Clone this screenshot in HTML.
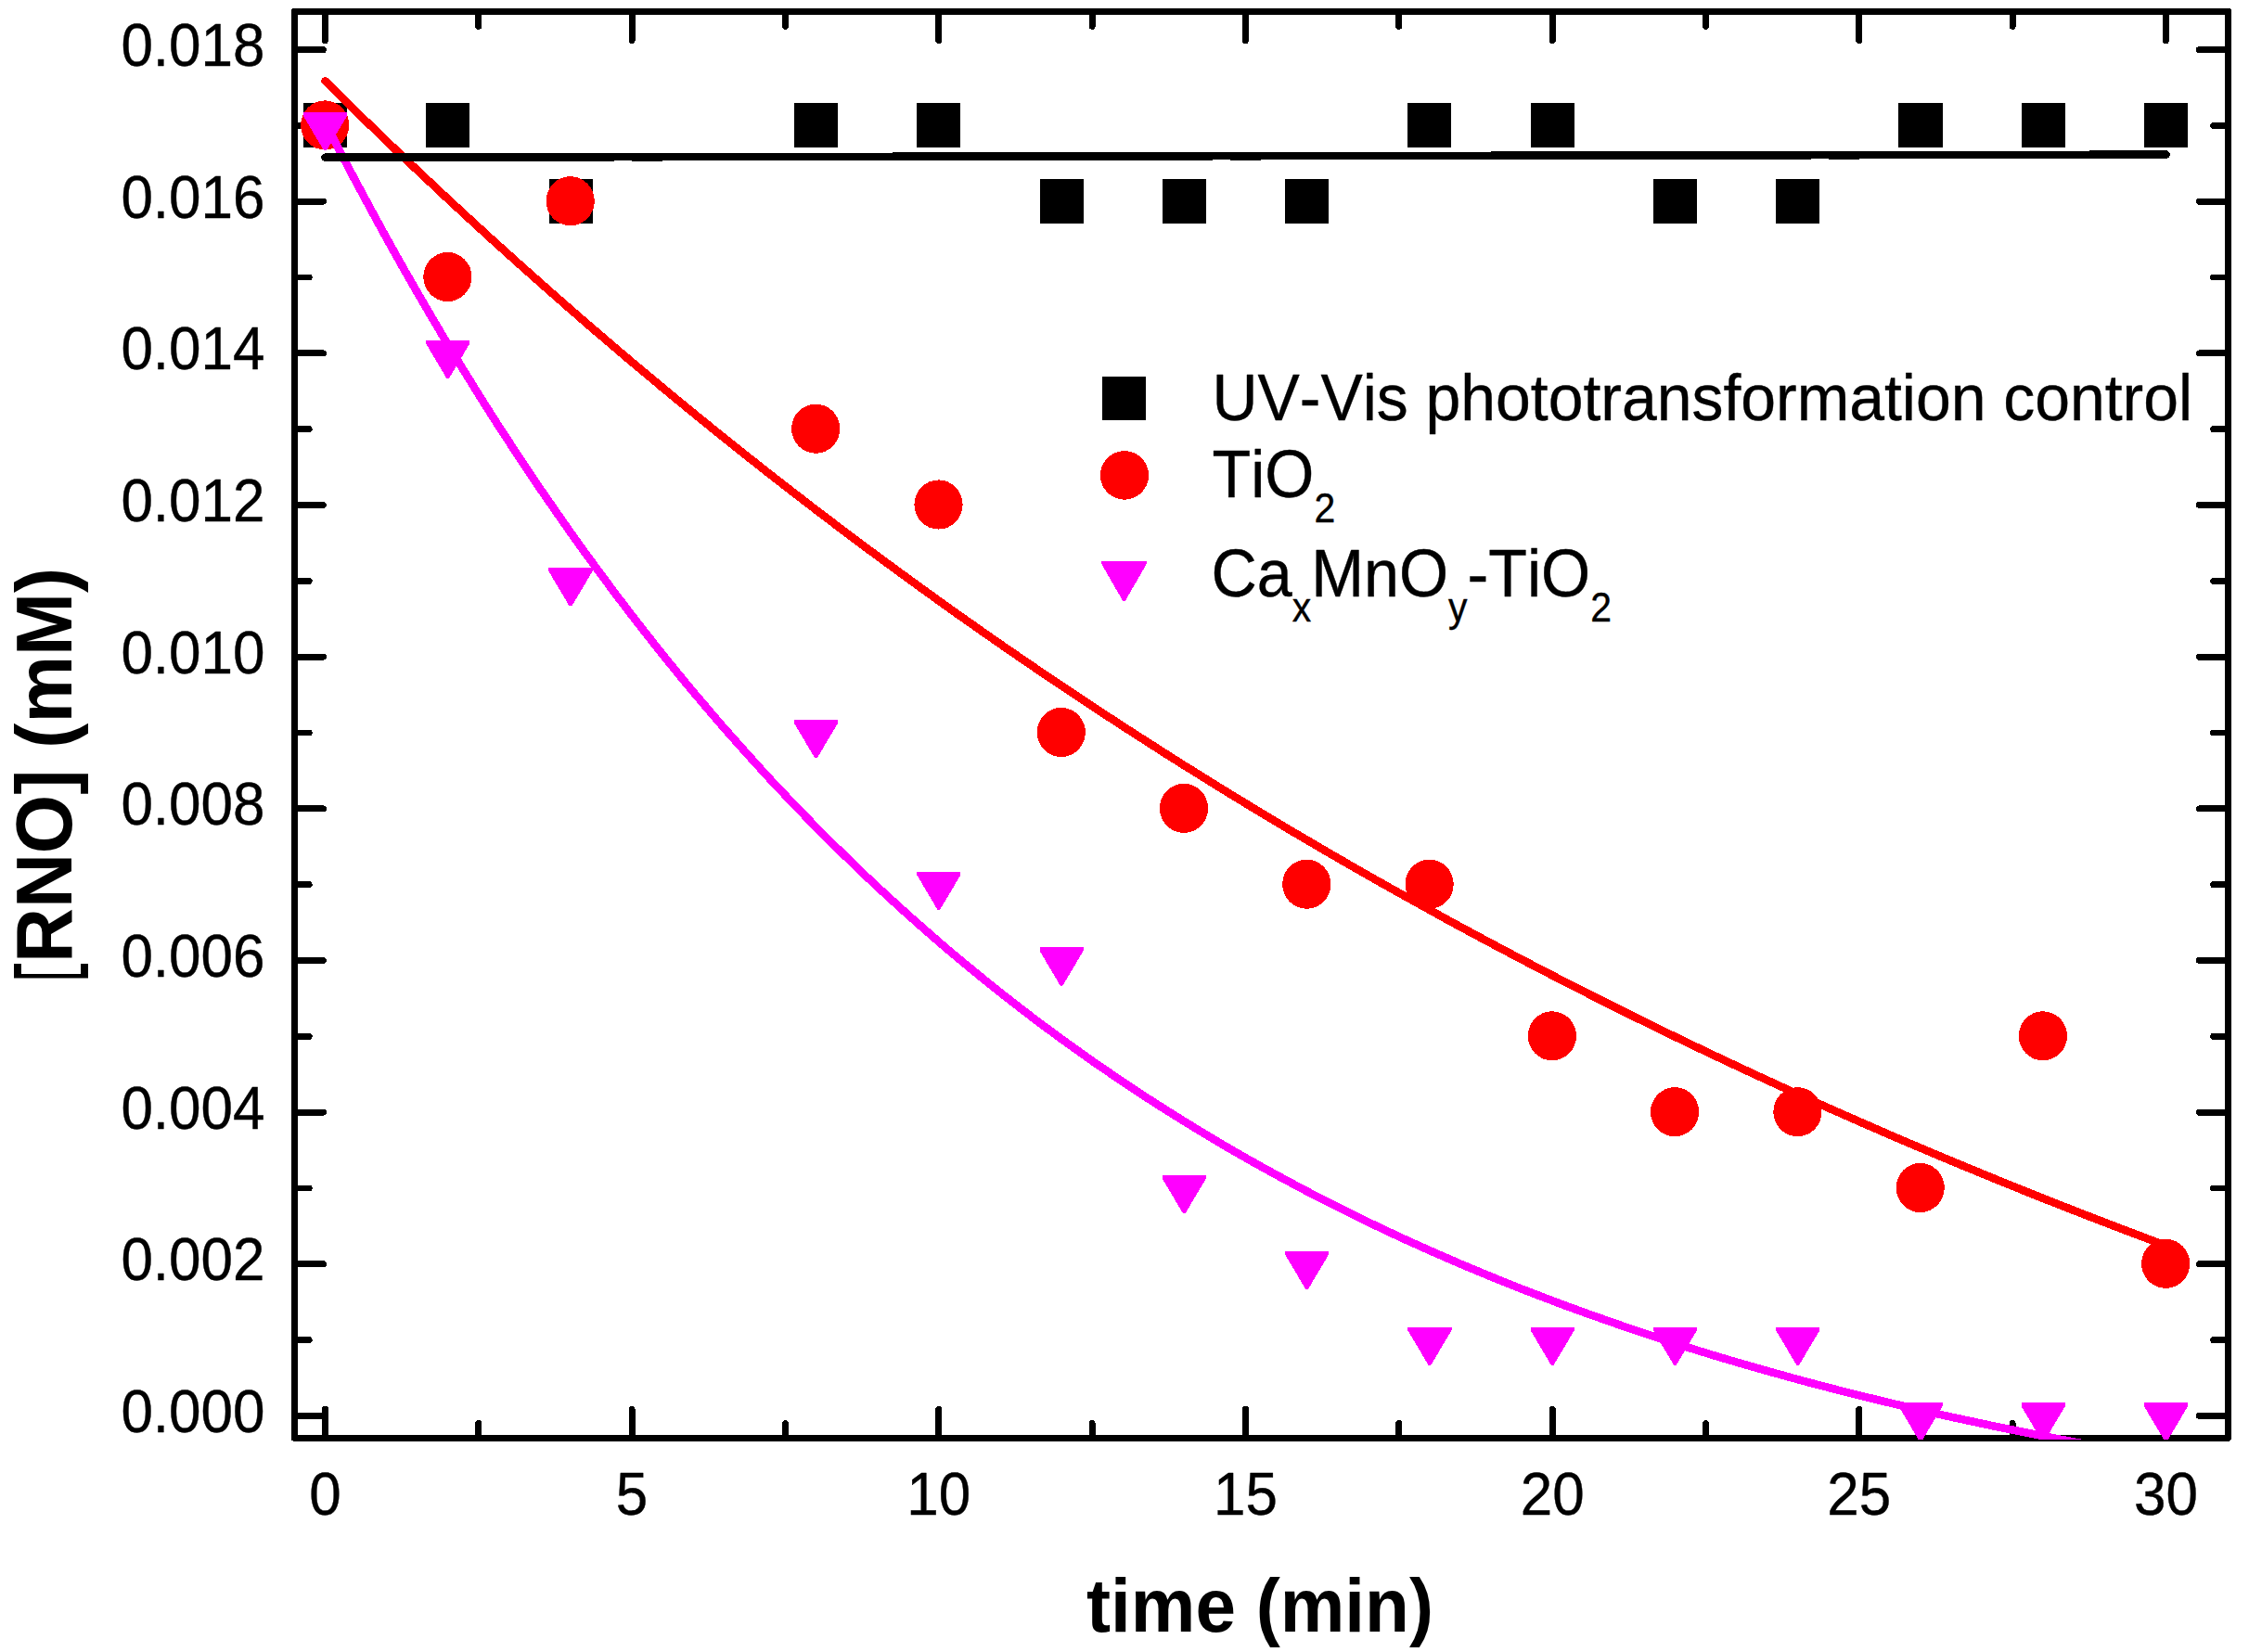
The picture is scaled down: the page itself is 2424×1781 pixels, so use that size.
<!DOCTYPE html>
<html><head><meta charset="utf-8"><title>RNO plot</title>
<style>html,body{margin:0;padding:0;background:#fff}svg{display:block}text{font-kerning:none}</style></head>
<body>
<svg width="2424" height="1781" viewBox="0 0 2424 1781" shape-rendering="crispEdges">
<rect width="2424" height="1781" fill="#fff"/>
<defs><clipPath id="c"><rect x="315.90" y="10.94" width="2087.16" height="1541.03"/></clipPath></defs>
<g stroke="#000" stroke-width="6.9" stroke-linecap="round" fill="none">
<rect x="317.4" y="12.44" width="2084.16" height="1538.03" stroke-linejoin="round"/>
<path d="M350.5 1550.47V1519.3M350.5 12.44V43.6M515.8 1550.47V1534.6M515.8 12.44V28.3M681.1 1550.47V1519.3M681.1 12.44V43.6M846.5 1550.47V1534.6M846.5 12.44V28.3M1011.8 1550.47V1519.3M1011.8 12.44V43.6M1177.1 1550.47V1534.6M1177.1 12.44V28.3M1342.5 1550.47V1519.3M1342.5 12.44V43.6M1507.8 1550.47V1534.6M1507.8 12.44V28.3M1673.2 1550.47V1519.3M1673.2 12.44V43.6M1838.5 1550.47V1534.6M1838.5 12.44V28.3M2003.8 1550.47V1519.3M2003.8 12.44V43.6M2169.2 1550.47V1534.6M2169.2 12.44V28.3M2334.5 1550.47V1519.3M2334.5 12.44V43.6M317.4 1526.5H348.5M2401.56 1526.5H2370.4M317.4 1444.7H333.2M2401.56 1444.7H2385.7M317.4 1362.8H348.5M2401.56 1362.8H2370.4M317.4 1281.0H333.2M2401.56 1281.0H2385.7M317.4 1199.2H348.5M2401.56 1199.2H2370.4M317.4 1117.3H333.2M2401.56 1117.3H2385.7M317.4 1035.5H348.5M2401.56 1035.5H2370.4M317.4 953.7H333.2M2401.56 953.7H2385.7M317.4 871.9H348.5M2401.56 871.9H2370.4M317.4 790.0H333.2M2401.56 790.0H2385.7M317.4 708.2H348.5M2401.56 708.2H2370.4M317.4 626.4H333.2M2401.56 626.4H2385.7M317.4 544.5H348.5M2401.56 544.5H2370.4M317.4 462.7H333.2M2401.56 462.7H2385.7M317.4 380.9H348.5M2401.56 380.9H2370.4M317.4 299.0H333.2M2401.56 299.0H2385.7M317.4 217.2H348.5M2401.56 217.2H2370.4M317.4 135.4H333.2M2401.56 135.4H2385.7M317.4 53.6H348.5M2401.56 53.6H2370.4"/>
</g>
<g font-family="'Liberation Sans', sans-serif" font-size="63" fill="#000" stroke="#000" stroke-width="0.4" stroke-linejoin="round">
<text transform="translate(285.5 1543.8) scale(0.984 1.0405)" text-anchor="end">0.000</text>
<text transform="translate(285.5 1380.1) scale(0.984 1.0405)" text-anchor="end">0.002</text>
<text transform="translate(285.5 1216.5) scale(0.984 1.0405)" text-anchor="end">0.004</text>
<text transform="translate(285.5 1052.8) scale(0.984 1.0405)" text-anchor="end">0.006</text>
<text transform="translate(285.5 889.2) scale(0.984 1.0405)" text-anchor="end">0.008</text>
<text transform="translate(285.5 725.5) scale(0.984 1.0405)" text-anchor="end">0.010</text>
<text transform="translate(285.5 561.8) scale(0.984 1.0405)" text-anchor="end">0.012</text>
<text transform="translate(285.5 398.2) scale(0.984 1.0405)" text-anchor="end">0.014</text>
<text transform="translate(285.5 234.5) scale(0.984 1.0405)" text-anchor="end">0.016</text>
<text transform="translate(285.5 70.9) scale(0.984 1.0405)" text-anchor="end">0.018</text>
<text transform="translate(350.5 1632.6) scale(0.984 1.0405)" text-anchor="middle">0</text>
<text transform="translate(681.1 1632.6) scale(0.984 1.0405)" text-anchor="middle">5</text>
<text transform="translate(1011.8 1632.6) scale(0.984 1.0405)" text-anchor="middle">10</text>
<text transform="translate(1342.5 1632.6) scale(0.984 1.0405)" text-anchor="middle">15</text>
<text transform="translate(1673.2 1632.6) scale(0.984 1.0405)" text-anchor="middle">20</text>
<text transform="translate(2003.8 1632.6) scale(0.984 1.0405)" text-anchor="middle">25</text>
<text transform="translate(2334.5 1632.6) scale(0.984 1.0405)" text-anchor="middle">30</text>
</g>
<g font-family="'Liberation Sans', sans-serif" font-size="81.5" font-weight="bold" fill="#000">
<text transform="translate(1358 1758.8) scale(0.9605 1)" text-anchor="middle">time (min)</text>
<clipPath id="yc"><rect x="0" y="600" width="110" height="454.6"/></clipPath>
<g clip-path="url(#yc)"><text transform="translate(77.0 838.5) rotate(-90) scale(1.002 1.054)" text-anchor="middle">[RNO] (mM)</text></g>
</g>
<g clip-path="url(#c)">
<g fill="#000"><rect x="326.9" y="111.4" width="47.1" height="47.9"/><rect x="459.2" y="111.4" width="47.1" height="47.9"/><rect x="591.5" y="193.3" width="47.1" height="47.9"/><rect x="856.0" y="111.4" width="47.1" height="47.9"/><rect x="988.3" y="111.4" width="47.1" height="47.9"/><rect x="1120.5" y="193.3" width="47.1" height="47.9"/><rect x="1252.8" y="193.3" width="47.1" height="47.9"/><rect x="1385.1" y="193.3" width="47.1" height="47.9"/><rect x="1517.3" y="111.4" width="47.1" height="47.9"/><rect x="1649.6" y="111.4" width="47.1" height="47.9"/><rect x="1781.9" y="193.3" width="47.1" height="47.9"/><rect x="1914.1" y="193.3" width="47.1" height="47.9"/><rect x="2046.4" y="111.4" width="47.1" height="47.9"/><rect x="2178.7" y="111.4" width="47.1" height="47.9"/><rect x="2310.9" y="111.4" width="47.1" height="47.9"/></g>
<g fill="#f00"><ellipse cx="350.2" cy="134.9" rx="26.1" ry="26.55"/><ellipse cx="482.4" cy="298.5" rx="26.1" ry="26.55"/><ellipse cx="614.7" cy="216.7" rx="26.1" ry="26.55"/><ellipse cx="879.2" cy="462.2" rx="26.1" ry="26.55"/><ellipse cx="1011.5" cy="544.0" rx="26.1" ry="26.55"/><ellipse cx="1143.8" cy="789.5" rx="26.1" ry="26.55"/><ellipse cx="1276.0" cy="871.4" rx="26.1" ry="26.55"/><ellipse cx="1408.3" cy="953.2" rx="26.1" ry="26.55"/><ellipse cx="1540.6" cy="953.2" rx="26.1" ry="26.55"/><ellipse cx="1672.9" cy="1116.8" rx="26.1" ry="26.55"/><ellipse cx="1805.1" cy="1198.7" rx="26.1" ry="26.55"/><ellipse cx="1937.4" cy="1198.7" rx="26.1" ry="26.55"/><ellipse cx="2069.7" cy="1280.5" rx="26.1" ry="26.55"/><ellipse cx="2201.9" cy="1116.8" rx="26.1" ry="26.55"/><ellipse cx="2334.2" cy="1362.3" rx="26.1" ry="26.55"/></g>
<g fill="#f0f"><path d="M326.9 121.2H374.1V124.9L351.9 162.4H349.1L326.9 124.9z"/><path d="M459.1 366.7H506.3V370.4L484.1 407.9H481.3L459.1 370.4z"/><path d="M591.4 612.2H638.6V615.9L616.4 653.4H613.6L591.4 615.9z"/><path d="M855.9 775.8H903.1V779.5L880.9 817.0H878.1L855.9 779.5z"/><path d="M988.2 939.5H1035.4V943.2L1013.2 980.7H1010.4L988.2 943.2z"/><path d="M1120.5 1021.3H1167.7V1025.0L1145.5 1062.5H1142.7L1120.5 1025.0z"/><path d="M1252.7 1266.8H1299.9V1270.5L1277.7 1308.0H1274.9L1252.7 1270.5z"/><path d="M1385.0 1348.6H1432.2V1352.3L1410.0 1389.8H1407.2L1385.0 1352.3z"/><path d="M1517.3 1430.5H1564.5V1434.2L1542.3 1471.7H1539.5L1517.3 1434.2z"/><path d="M1649.6 1430.5H1696.8V1434.2L1674.6 1471.7H1671.8L1649.6 1434.2z"/><path d="M1781.8 1430.5H1829.0V1434.2L1806.8 1471.7H1804.0L1781.8 1434.2z"/><path d="M1914.1 1430.5H1961.3V1434.2L1939.1 1471.7H1936.3L1914.1 1434.2z"/><path d="M2046.4 1512.3H2093.6V1516.0L2071.4 1553.5H2068.6L2046.4 1516.0z"/><path d="M2178.6 1512.3H2225.8V1516.0L2203.6 1553.5H2200.8L2178.6 1516.0z"/><path d="M2310.9 1512.3H2358.1V1516.0L2335.9 1553.5H2333.1L2310.9 1516.0z"/></g>
<g fill="none" stroke-width="8.6" stroke-linecap="round" stroke-linejoin="round">
<path stroke="#f0f" d="M350.5 132.2L367.0 164.3L383.5 195.7L400.1 226.5L416.6 256.7L433.1 286.2L449.7 315.2L466.2 343.5L482.7 371.3L499.3 398.5L515.8 425.2L532.3 451.3L548.9 476.8L565.4 501.9L581.9 526.4L598.5 550.5L615.0 574.0L631.5 597.1L648.1 619.7L664.6 641.9L681.1 663.5L697.7 684.8L714.2 705.6L730.7 726.0L747.3 746.0L763.8 765.5L780.3 784.7L796.9 803.4L813.4 821.8L829.9 839.9L846.5 857.5L863.0 874.8L879.5 891.7L896.1 908.3L912.6 924.5L929.1 940.5L945.7 956.1L962.2 971.3L978.7 986.3L995.3 1000.9L1011.8 1015.3L1028.3 1029.4L1044.9 1043.1L1061.4 1056.6L1077.9 1069.9L1094.5 1082.8L1111.0 1095.5L1127.5 1107.9L1144.1 1120.1L1160.6 1132.0L1177.1 1143.7L1193.7 1155.1L1210.2 1166.3L1226.7 1177.3L1243.3 1188.1L1259.8 1198.6L1276.3 1208.9L1292.9 1219.0L1309.4 1229.0L1325.9 1238.7L1342.5 1248.2L1359.0 1257.5L1375.5 1266.6L1392.1 1275.5L1408.6 1284.3L1425.1 1292.8L1441.7 1301.2L1458.2 1309.5L1474.7 1317.5L1491.3 1325.4L1507.8 1333.2L1524.3 1340.7L1540.9 1348.1L1557.4 1355.4L1573.9 1362.5L1590.5 1369.5L1607.0 1376.3L1623.5 1383.0L1640.1 1389.6L1656.6 1396.0L1673.2 1402.3L1689.7 1408.5L1706.2 1414.5L1722.8 1420.4L1739.3 1426.2L1755.8 1431.9L1772.4 1437.4L1788.9 1442.9L1805.4 1448.2L1822.0 1453.5L1838.5 1458.6L1855.0 1463.6L1871.6 1468.5L1888.1 1473.3L1904.6 1478.0L1921.2 1482.6L1937.7 1487.2L1954.2 1491.6L1970.8 1495.9L1987.3 1500.2L2003.8 1504.3L2020.4 1508.4L2036.9 1512.4L2053.4 1516.3L2070.0 1520.2L2086.5 1523.9L2103.0 1527.6L2119.6 1531.2L2136.1 1534.7L2152.6 1538.2L2169.2 1541.6L2185.7 1544.9L2202.2 1548.2L2218.8 1551.4L2235.3 1554.5L2251.8 1557.5L2268.4 1560.5L2284.9 1563.5L2301.4 1566.3L2318.0 1569.1L2334.5 1571.9"/>
<path stroke="#f00" d="M350.5 87.3L367.0 103.7L383.5 119.9L400.1 136.0L416.6 151.9L433.1 167.8L449.7 183.5L466.2 199.0L482.7 214.5L499.3 229.8L515.8 245.0L532.3 260.1L548.9 275.0L565.4 289.8L581.9 304.5L598.5 319.1L615.0 333.6L631.5 348.0L648.1 362.2L664.6 376.3L681.1 390.3L697.7 404.2L714.2 418.0L730.7 431.6L747.3 445.2L763.8 458.6L780.3 472.0L796.9 485.2L813.4 498.3L829.9 511.3L846.5 524.2L863.0 537.0L879.5 549.7L896.1 562.3L912.6 574.8L929.1 587.2L945.7 599.4L962.2 611.6L978.7 623.7L995.3 635.7L1011.8 647.6L1028.3 659.4L1044.9 671.1L1061.4 682.7L1077.9 694.2L1094.5 705.6L1111.0 716.9L1127.5 728.2L1144.1 739.3L1160.6 750.3L1177.1 761.3L1193.7 772.2L1210.2 782.9L1226.7 793.6L1243.3 804.2L1259.8 814.8L1276.3 825.2L1292.9 835.5L1309.4 845.8L1325.9 856.0L1342.5 866.1L1359.0 876.1L1375.5 886.0L1392.1 895.9L1408.6 905.6L1425.1 915.3L1441.7 924.9L1458.2 934.5L1474.7 943.9L1491.3 953.3L1507.8 962.6L1524.3 971.8L1540.9 981.0L1557.4 990.1L1573.9 999.1L1590.5 1008.0L1607.0 1016.9L1623.5 1025.6L1640.1 1034.4L1656.6 1043.0L1673.2 1051.6L1689.7 1060.1L1706.2 1068.5L1722.8 1076.9L1739.3 1085.2L1755.8 1093.4L1772.4 1101.6L1788.9 1109.7L1805.4 1117.7L1822.0 1125.7L1838.5 1133.6L1855.0 1141.4L1871.6 1149.2L1888.1 1156.9L1904.6 1164.5L1921.2 1172.1L1937.7 1179.6L1954.2 1187.1L1970.8 1194.5L1987.3 1201.8L2003.8 1209.1L2020.4 1216.3L2036.9 1223.5L2053.4 1230.6L2070.0 1237.6L2086.5 1244.6L2103.0 1251.5L2119.6 1258.4L2136.1 1265.2L2152.6 1272.0L2169.2 1278.7L2185.7 1285.4L2202.2 1292.0L2218.8 1298.5L2235.3 1305.0L2251.8 1311.4L2268.4 1317.8L2284.9 1324.2L2301.4 1330.4L2318.0 1336.7L2334.5 1342.9"/>
<path stroke="#000" d="M350.5 169.7L367.0 169.7L383.5 169.7L400.1 169.6L416.6 169.6L433.1 169.6L449.7 169.6L466.2 169.5L482.7 169.5L499.3 169.5L515.8 169.5L532.3 169.4L548.9 169.4L565.4 169.4L581.9 169.4L598.5 169.3L615.0 169.3L631.5 169.3L648.1 169.3L664.6 169.2L681.1 169.2L697.7 169.2L714.2 169.2L730.7 169.1L747.3 169.1L763.8 169.1L780.3 169.1L796.9 169.0L813.4 169.0L829.9 169.0L846.5 169.0L863.0 168.9L879.5 168.9L896.1 168.9L912.6 168.9L929.1 168.8L945.7 168.8L962.2 168.8L978.7 168.7L995.3 168.7L1011.8 168.7L1028.3 168.7L1044.9 168.6L1061.4 168.6L1077.9 168.6L1094.5 168.6L1111.0 168.5L1127.5 168.5L1144.1 168.5L1160.6 168.5L1177.1 168.4L1193.7 168.4L1210.2 168.4L1226.7 168.4L1243.3 168.3L1259.8 168.3L1276.3 168.3L1292.9 168.3L1309.4 168.2L1325.9 168.2L1342.5 168.2L1359.0 168.2L1375.5 168.1L1392.1 168.1L1408.6 168.1L1425.1 168.1L1441.7 168.0L1458.2 168.0L1474.7 168.0L1491.3 168.0L1507.8 167.9L1524.3 167.9L1540.9 167.9L1557.4 167.8L1573.9 167.8L1590.5 167.8L1607.0 167.8L1623.5 167.7L1640.1 167.7L1656.6 167.7L1673.2 167.7L1689.7 167.6L1706.2 167.6L1722.8 167.6L1739.3 167.6L1755.8 167.5L1772.4 167.5L1788.9 167.5L1805.4 167.5L1822.0 167.4L1838.5 167.4L1855.0 167.4L1871.6 167.4L1888.1 167.3L1904.6 167.3L1921.2 167.3L1937.7 167.3L1954.2 167.2L1970.8 167.2L1987.3 167.2L2003.8 167.2L2020.4 167.1L2036.9 167.1L2053.4 167.1L2070.0 167.1L2086.5 167.0L2103.0 167.0L2119.6 167.0L2136.1 167.0L2152.6 166.9L2169.2 166.9L2185.7 166.9L2202.2 166.8L2218.8 166.8L2235.3 166.8L2251.8 166.8L2268.4 166.7L2284.9 166.7L2301.4 166.7L2318.0 166.7L2334.5 166.6"/>
</g></g>
<rect x="1187.9" y="406" width="47.2" height="47.2" fill="#000"/>
<ellipse cx="1212" cy="512.4" rx="26.1" ry="26.3" fill="#f00"/>
<g fill="#f0f"><path d="M1186.8 604.9H1236.2V607.2L1212.7 648.1H1210.3L1186.8 607.2z"/></g>
<g font-family="'Liberation Sans', sans-serif" font-size="70" fill="#000" stroke="#000" stroke-width="0.4" stroke-linejoin="round">
<text transform="translate(1306.5 453.2) scale(0.97 1.005)" text-anchor="start">UV-Vis phototransformation control</text>
<text transform="translate(1306.5 535.9) scale(0.975 1.0405)" text-anchor="start">TiO<tspan font-size="42" dy="26">2</tspan></text>
<text transform="translate(1305.5 643.1) scale(0.975 1.0405)" text-anchor="start">Ca<tspan font-size="42" dy="25.5">x</tspan><tspan dy="-25.5">MnO</tspan><tspan font-size="42" dy="25.5">y</tspan><tspan dy="-25.5">-TiO</tspan><tspan font-size="42" dy="25.5">2</tspan></text>
</g>
</svg>
</body></html>
